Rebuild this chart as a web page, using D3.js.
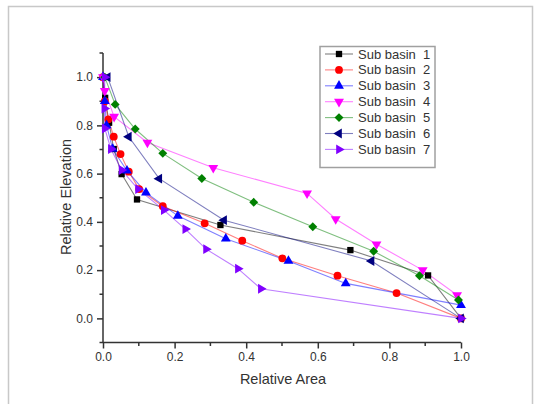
<!DOCTYPE html>
<html lang="en">
<head>
  <meta charset="UTF-8">
  <title>Hypsometric curves</title>
  <script src="https://cdn.jsdelivr.net/npm/d3@7"></script>
  <style>
    html, body { margin: 0; padding: 0; background: #fff; }
    text { font-family: "Liberation Sans", Arial, sans-serif; fill: #333; }
    .axis path, .axis line { stroke: #333; stroke-width: 1.5px; }
    .line { fill: none; stroke-width: 1.1px; stroke-opacity: 0.5; }
  </style>
</head>
<body>
  <div id="container"></div>
  <script>
    const width = 535;
    const height = 404;

    // Series names and data (relative area vs relative elevation)
    const names = ['Sub basin  1', 'Sub basin  2', 'Sub basin  3', 'Sub basin  4', 'Sub basin  5', 'Sub basin  6', 'Sub basin  7'];

    const areaS1 = [0, 0.006, 0.017, 0.030, 0.052, 0.095, 0.328, 0.691, 0.908, 1.0];
    const elevS1 = [1.0, 0.914, 0.811, 0.702, 0.598, 0.493, 0.387, 0.283, 0.178, 0.0];

    const areaS2 = [0, 0.005, 0.015, 0.030, 0.049, 0.072, 0.101, 0.167, 0.284, 0.389, 0.501, 0.655, 0.820, 1.0];
    const elevS2 = [1.0, 0.90, 0.825, 0.753, 0.681, 0.608, 0.536, 0.465, 0.394, 0.322, 0.249, 0.177, 0.105, 0.0];

    const areaS3 = [0, 0.005, 0.010, 0.027, 0.067, 0.120, 0.209, 0.343, 0.518, 0.678, 1.0];
    const elevS3 = [1.0, 0.90, 0.80, 0.702, 0.612, 0.521, 0.425, 0.330, 0.238, 0.145, 0.055];

    const areaS4 = [0, 0.005, 0.031, 0.124, 0.308, 0.570, 0.650, 0.764, 0.893, 0.989];
    const elevS4 = [1.0, 0.943, 0.836, 0.729, 0.624, 0.518, 0.412, 0.307, 0.200, 0.097];

    const areaS5 = [0.005, 0.034, 0.090, 0.167, 0.276, 0.421, 0.586, 0.756, 0.884, 0.993];
    const elevS5 = [1.0, 0.887, 0.785, 0.684, 0.580, 0.481, 0.380, 0.278, 0.177, 0.076];

    const areaS6 = [0.013, 0.072, 0.157, 0.338, 0.750, 1.0];
    const elevS6 = [1.0, 0.753, 0.579, 0.407, 0.238, 0.0];

    const areaS7 = [0.005, 0.004, 0.005, 0.022, 0.052, 0.098, 0.170, 0.230, 0.288, 0.377, 0.441, 1.0];
    const elevS7 = [1.0, 0.87, 0.787, 0.702, 0.615, 0.536, 0.449, 0.370, 0.287, 0.206, 0.123, 0.0];

    const xTicks = [0, 0.2, 0.4, 0.6, 0.8, 1.0];
    const yTicks = [0, 0.2, 0.4, 0.6, 0.8, 1.0];

    const colors = ['#000000', '#ff0000', '#0000ff', '#ff00ff', '#008000', '#000080', '#8000ff'];
    // symbol type + rotation for each series
    const shapes = [
      {type: d3.symbolSquare, rot: 0, size: 40},
      {type: d3.symbolCircle, rot: 0, size: 48},
      {type: d3.symbolTriangle, rot: 0, size: 42},
      {type: d3.symbolTriangle, rot: 180, size: 42},
      {type: d3.symbolSquare, rot: 45, size: 40},
      {type: d3.symbolTriangle, rot: -90, size: 42},
      {type: d3.symbolTriangle, rot: 90, size: 42}
    ];

    const areas = [areaS1, areaS2, areaS3, areaS4, areaS5, areaS6, areaS7];
    const elevs = [elevS1, elevS2, elevS3, elevS4, elevS5, elevS6, elevS7];
    const data = areas.map((a, i) => a.map((x, j) => [x, elevs[i][j]]));

    const svg = d3.select('#container').append('svg')
      .attr('width', width).attr('height', height);

    // outer frame
    svg.append('path')
      .attr('d', `M8.5,${height} V6.5 H532.5 V${height}`)
      .attr('fill', 'none').attr('stroke', '#c8c8c8').attr('stroke-width', 1.5);

    const xScale = d3.scaleLinear().domain([0, 1]).range([103, 461]);
    const yScale = d3.scaleLinear().domain([-0.1, 1.1]).range([342.5, 53]);

    // minor ticks
    const xMinor = d3.range(0.1, 1.0, 0.2);
    const yMinor = [-0.1, 0.1, 0.3, 0.5, 0.7, 0.9, 1.1];

    const xAxis = d3.axisBottom(xScale).tickValues(xTicks).tickFormat(d3.format('.1f')).tickSize(6).tickPadding(4);
    const yAxis = d3.axisLeft(yScale).tickValues(yTicks).tickFormat(d3.format('.1f')).tickSize(6).tickPadding(4);

    const gx = svg.append('g').attr('class', 'axis').attr('transform', `translate(0,${yScale(-0.1)})`).call(xAxis);
    gx.selectAll('line.minor').data(xMinor).enter().append('line').attr('class', 'minor')
      .attr('x1', d => xScale(d)).attr('x2', d => xScale(d)).attr('y1', 0).attr('y2', 3.5);
    gx.select('.domain').attr('d', `M${xScale(0)},0H${xScale(1)}`);

    const gy = svg.append('g').attr('class', 'axis').attr('transform', `translate(${xScale(0)},0)`).call(yAxis);
    gy.selectAll('line.minor').data(yMinor).enter().append('line').attr('class', 'minor')
      .attr('y1', d => yScale(d)).attr('y2', d => yScale(d)).attr('x1', 0).attr('x2', -3.5);
    gy.select('.domain').attr('d', `M0,${yScale(-0.1)}V${yScale(1.1)}`);

    svg.selectAll('.axis text').style('font-size', '12px').attr('fill', '#333');

    // axis titles
    svg.append('text').attr('x', 283).attr('y', 384).attr('text-anchor', 'middle')
      .style('font-size', '14.5px').text('Relative Area');
    svg.append('text').attr('transform', 'translate(71,197) rotate(-90)').attr('text-anchor', 'middle')
      .style('font-size', '14.5px').text('Relative Elevation');

    const line = d3.line().x(d => xScale(d[0])).y(d => yScale(d[1]));

    const sym = i => d3.symbol().type(shapes[i].type).size(shapes[i].size)();

    data.forEach((s, i) => {
      svg.append('path').attr('class', 'line').attr('d', line(s)).attr('stroke', colors[i]);
    });
    data.forEach((s, i) => {
      svg.append('g').selectAll('path').data(s).enter().append('path')
        .attr('d', sym(i))
        .attr('transform', d => `translate(${xScale(d[0])},${yScale(d[1])}) rotate(${shapes[i].rot})`)
        .attr('fill', colors[i]);
    });

    // legend
    const legend = svg.append('g');
    legend.append('rect').attr('x', 320).attr('y', 46.5).attr('width', 115).attr('height', 121)
      .attr('fill', '#fff').attr('stroke', '#a0a0a0').attr('stroke-width', 1.5);
    names.forEach((n, i) => {
      const y = 54 + i * 15.9;
      legend.append('line').attr('x1', 325).attr('x2', 353).attr('y1', y).attr('y2', y)
        .attr('stroke', colors[i]).attr('stroke-opacity', 0.5).attr('stroke-width', 1.1);
      legend.append('path').attr('d', sym(i))
        .attr('transform', `translate(339,${y}) rotate(${shapes[i].rot})`).attr('fill', colors[i]);
      legend.append('text').attr('x', 358).attr('y', y + 4.5).style('font-size', '13px')
        .style('white-space', 'pre').text(n);
    });
  </script>
</body>
</html>
